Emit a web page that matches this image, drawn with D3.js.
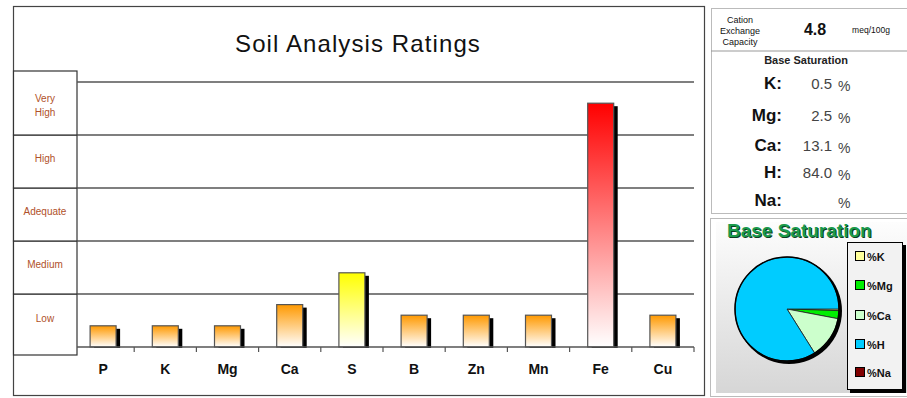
<!DOCTYPE html>
<html>
<head>
<meta charset="utf-8">
<script src="https://d3js.org/d3.v7.min.js"></script>
<style>
body { margin: 0; background: #fff; }
text { font-family: "Liberation Sans", Arial, sans-serif; }
</style>
</head>
<body>
<svg id="chart" width="907" height="398"></svg>
<script>
// chart data
var nutrients = ["P", "K", "Mg", "Ca", "S", "B", "Zn", "Mn", "Fe", "Cu"];
var ratings = [0.4, 0.4, 0.4, 0.8, 1.4, 0.6, 0.6, 0.6, 4.6, 0.6];
var barColors = ["#ff9900", "#ff9900", "#ff9900", "#ff9900", "#ffff00", "#ff9900", "#ff9900", "#ff9900", "#ff0000", "#ff9900"];
var levels = ["Low", "Medium", "Adequate", "High", "Very High"];

var cec = "4.8";
var satNames = ["K", "Mg", "Ca", "H", "Na"];
var satValues = [0.5, 2.5, 13.1, 84.0, null];
var satText = ["0.5", "2.5", "13.1", "84.0", ""];
var pieColors = ["#ffff99", "#00ee00", "#ccffcc", "#00ccff", "#800000"];

var svg = d3.select("#chart");
var defs = svg.append("defs");

var x = d3.scaleBand().domain(nutrients).range([72, 694]);
var y = d3.scaleLinear().domain([0, 5]).range([347, 82]);

// main frame
svg.append("rect").attr("x", 13.5).attr("y", 6.5).attr("width", 691).attr("height", 389)
  .attr("fill", "#fff").attr("stroke", "#444").attr("stroke-width", 1.2);

svg.append("text").attr("x", 358).attr("y", 52).attr("text-anchor", "middle")
  .attr("font-size", 24).attr("letter-spacing", 1.1).attr("fill", "#111")
  .text("Soil Analysis Ratings");

// level boxes on the left
levels.forEach(function(lv, i) {
  var top = y(i + 1), bot = y(i);
  if (i == levels.length - 1) top = y(i + 1) - 11;
  if (i == 0) bot = y(0) + 8;
  svg.append("rect").attr("x", 13.5).attr("y", top).attr("width", 63.5).attr("height", bot - top)
    .attr("fill", "#fff").attr("stroke", "#333").attr("stroke-width", 1.2);
  var words = lv == "Very High" ? ["Very", "High"] : [lv];
  var cy = lv == "Low" ? y(0.5) - 3 : y(i + 0.5) - 4;
  words.forEach(function(w, j) {
    svg.append("text").attr("x", 45).attr("y", cy + (j - (words.length - 1) / 2) * 14 + 4)
      .attr("text-anchor", "middle").attr("font-size", 10).attr("fill", "#b0512a").text(w);
  });
});

// gridlines
svg.append("g").selectAll("line").data(d3.range(1, 6)).join("line")
  .attr("x1", 77).attr("x2", 694).attr("y1", d => y(d)).attr("y2", d => y(d))
  .attr("stroke", "#555").attr("stroke-width", 1.5);

// gradients
barColors.forEach(function(c, i) {
  var g = defs.append("linearGradient").attr("id", "grad" + i)
    .attr("x1", 0).attr("y1", 0).attr("x2", 0).attr("y2", 1);
  g.append("stop").attr("offset", "0%").attr("stop-color", c);
  g.append("stop").attr("offset", "100%").attr("stop-color", "#fff");
});

var bw = 26;
var bars = svg.append("g");
nutrients.forEach(function(n, i) {
  var cx = x(n) + x.bandwidth() / 2;
  var top = y(ratings[i]);
  bars.append("rect").attr("x", cx - bw / 2 + 4).attr("y", top + 3)
    .attr("width", bw).attr("height", y(0) - top - 2).attr("fill", "#000");
  bars.append("rect").attr("x", cx - bw / 2).attr("y", top)
    .attr("width", bw).attr("height", y(0) - top)
    .attr("fill", "url(#grad" + i + ")").attr("stroke", "#555").attr("stroke-width", 1.2);
});

// x axis
svg.append("line").attr("x1", 77).attr("x2", 694).attr("y1", y(0)).attr("y2", y(0))
  .attr("stroke", "#555").attr("stroke-width", 1.5);
svg.append("g").selectAll("line").data(nutrients.slice(1).concat(["end"])).join("line")
  .attr("x1", (d, i) => x(nutrients[0]) + (i + 1) * x.step())
  .attr("x2", (d, i) => x(nutrients[0]) + (i + 1) * x.step())
  .attr("y1", y(0)).attr("y2", y(0) + 5).attr("stroke", "#555").attr("stroke-width", 1.2);
svg.append("g").selectAll("text").data(nutrients).join("text")
  .attr("x", d => x(d) + x.bandwidth() / 2).attr("y", 374)
  .attr("text-anchor", "middle").attr("font-size", 14).attr("font-weight", "bold")
  .attr("fill", "#111").text(d => d);

// right info panel
svg.append("rect").attr("x", 711.5).attr("y", 8.5).attr("width", 196).attr("height", 205)
  .attr("fill", "#fff").attr("stroke", "#bbb");
svg.append("line").attr("x1", 711).attr("x2", 907).attr("y1", 51).attr("y2", 51).attr("stroke", "#999");
["Cation", "Exchange", "Capacity"].forEach(function(t, i) {
  svg.append("text").attr("x", 740).attr("y", 23 + i * 11).attr("text-anchor", "middle")
    .attr("font-size", 9).attr("fill", "#111").text(t);
});
svg.append("text").attr("x", 815).attr("y", 35).attr("text-anchor", "middle")
  .attr("font-size", 16).attr("font-weight", "bold").attr("fill", "#111").text(cec);
svg.append("text").attr("x", 871).attr("y", 33).attr("text-anchor", "middle")
  .attr("font-size", 8.5).attr("fill", "#111").text("meq/100g");
svg.append("text").attr("x", 806).attr("y", 64).attr("text-anchor", "middle")
  .attr("font-size", 11).attr("font-weight", "bold").attr("fill", "#222").text("Base Saturation");

var rowY = [89, 121, 151, 178, 206];
satNames.forEach(function(n, i) {
  svg.append("text").attr("x", 782).attr("y", rowY[i]).attr("text-anchor", "end")
    .attr("font-size", 17).attr("font-weight", "bold").attr("fill", "#111").text(n + ":");
  svg.append("text").attr("x", 832).attr("y", rowY[i]).attr("text-anchor", "end")
    .attr("font-size", 15).attr("fill", "#444").text(satText[i]);
  svg.append("text").attr("x", 838).attr("y", rowY[i] + 2)
    .attr("font-size", 14).attr("fill", "#444").text("%");
});

// pie panel
var bg = defs.append("linearGradient").attr("id", "piebg").attr("x1", 0).attr("y1", 0).attr("x2", 0).attr("y2", 1);
bg.append("stop").attr("offset", "0%").attr("stop-color", "#fdfdfd");
bg.append("stop").attr("offset", "100%").attr("stop-color", "#d6d6d6");
svg.append("rect").attr("x", 710.5).attr("y", 218.5).attr("width", 197).attr("height", 178)
  .attr("fill", "#fff").attr("stroke", "#bbb");
svg.append("rect").attr("x", 716).attr("y", 222).attr("width", 191).attr("height", 171)
  .attr("fill", "url(#piebg)");
svg.append("text").attr("x", 728).attr("y", 238).attr("font-size", 19).attr("font-weight", "bold")
  .attr("fill", "#0b3d20").text("Base Saturation");
svg.append("text").attr("x", 727).attr("y", 237).attr("font-size", 19).attr("font-weight", "bold")
  .attr("fill", "#1a9a4c").text("Base Saturation");

var pieData = satValues.map((v, i) => ({ name: satNames[i], value: v || 0, color: pieColors[i] }));
var pie = d3.pie().sort(null).value(d => d.value).startAngle(Math.PI / 2).endAngle(Math.PI / 2 + 2 * Math.PI);
var arc = d3.arc().innerRadius(0).outerRadius(52);
var pg = svg.append("g").attr("transform", "translate(787,309)");
pg.append("circle").attr("cx", 2).attr("cy", 2).attr("r", 53).attr("fill", "#000");
pg.selectAll("path").data(pie(pieData).filter(d => d.data.value > 0)).join("path")
  .attr("d", arc).attr("fill", d => d.data.color).attr("stroke", "#222").attr("stroke-width", 0.8);
pg.append("circle").attr("r", 52).attr("fill", "none").attr("stroke", "#000").attr("stroke-width", 1.5);

// legend
svg.append("rect").attr("x", 850).attr("y", 245).attr("width", 56).attr("height", 148).attr("fill", "#000");
svg.append("rect").attr("x", 847.5).attr("y", 242.5).attr("width", 55).attr("height", 147)
  .attr("fill", "#f2f2f2").attr("stroke", "#000");
var legY = [257, 286, 316, 345, 373];
satNames.forEach(function(n, i) {
  svg.append("rect").attr("x", 855.5).attr("y", legY[i] - 5.5).attr("width", 9).attr("height", 9)
    .attr("fill", pieColors[i]).attr("stroke", "#000");
  svg.append("text").attr("x", 867).attr("y", legY[i] + 4).attr("font-size", 11).attr("font-weight", "bold")
    .attr("fill", "#111").text("%" + n);
});
</script>
</body>
</html>
